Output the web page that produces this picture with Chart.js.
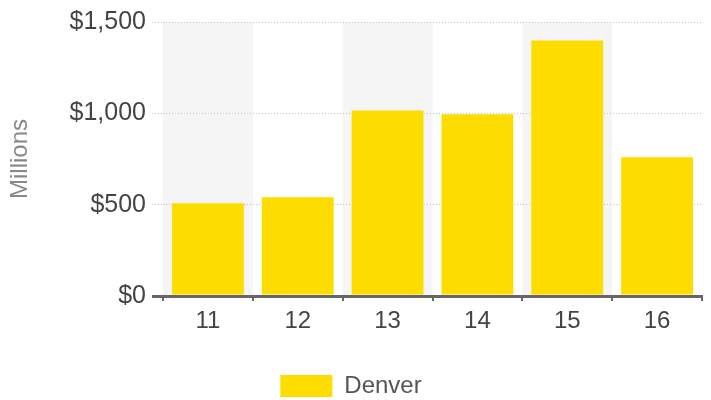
<!DOCTYPE html>
<html>
<head>
<meta charset="utf-8">
<script src="https://cdn.jsdelivr.net/npm/chart.js@4"></script>
<style>
    html, body { margin: 0; padding: 0; background: #fff; }
    #wrap { width: 711px; height: 400px; }
</style>
</head>
<body>
<div id="wrap"><canvas id="salesChart" width="711" height="400"></canvas></div>
<script>
// Chart data
const categories = ['11', '12', '13', '14', '15', '16'];
const denverValues = [508, 541, 1016, 995, 1399, 760];
const yTicks = [0, 500, 1000, 1500];

const TEXT = '#444';
const AXIS = '#666';

// shaded background for every other category
const bandPlugin = {
    id: 'bands',
    beforeDraw(chart) {
        const { ctx, chartArea, scales } = chart;
        const x = scales.x;
        const step = x.width / categories.length;
        ctx.save();
        ctx.fillStyle = '#f5f5f5';
        categories.forEach((c, i) => {
            if (i % 2 !== 0) return;
            const center = x.getPixelForValue(i);
            ctx.fillRect(center - step / 2, chartArea.top, step, chartArea.bottom - chartArea.top);
        });
        ctx.restore();
    }
};

Chart.defaults.font.family = '"Liberation Sans", Arial, sans-serif';
Chart.defaults.color = TEXT;

new Chart(document.getElementById('salesChart').getContext('2d'), {
    type: 'bar',
    data: {
        labels: categories,
        datasets: [{
            label: 'Denver',
            data: denverValues,
            backgroundColor: '#fddd00',
            borderWidth: 0,
            barPercentage: 0.8,
            categoryPercentage: 1.0
        }]
    },
    options: {
        responsive: false,
        animation: false,
        layout: { padding: { top: 22, right: 9, left: 0, bottom: -8 } },
        plugins: {
            tooltip: { enabled: false },
            legend: {
                position: 'bottom',
                labels: {
                    boxWidth: 52,
                    boxHeight: 22,
                    padding: 6,
                    color: '#555',
                    font: { size: 24 }
                }
            }
        },
        scales: {
            x: {
                grid: {
                    drawOnChartArea: false,
                    drawTicks: true,
                    tickLength: 5,
                    color: AXIS,
                    lineWidth: 2
                },
                border: { display: true, color: AXIS, width: 3 },
                ticks: { color: TEXT, font: { size: 24 }, padding: 6 },
                afterFit(scale) {
                    scale.height = 72;
                }
            },
            y: {
                min: 0,
                max: 1500,
                afterBuildTicks(scale) {
                    scale.ticks = yTicks.map(v => ({ value: v }));
                },
                afterFit(scale) {
                    scale.width = 163;
                },
                grid: {
                    color: ctx => (ctx.tick && ctx.tick.value === 0 ? AXIS : '#c4c4c4'),
                    lineWidth: ctx => (ctx.tick && ctx.tick.value === 0 ? 3 : 1),
                    tickBorderDash: ctx => (ctx.tick && ctx.tick.value === 0 ? [] : [1, 2]),
                    tickLength: 11
                },
                border: { display: false, dash: [1, 2] },
                ticks: {
                    color: TEXT,
                    font: { size: 25 },
                    padding: 6,
                    callback: v => '$' + v.toLocaleString('en-US')
                },
                title: {
                    display: true,
                    text: 'Millions',
                    color: '#888',
                    font: { size: 24 },
                    padding: { top: 6, bottom: 10 }
                }
            }
        }
    },
    plugins: [bandPlugin]
});
</script>
</body>
</html>
